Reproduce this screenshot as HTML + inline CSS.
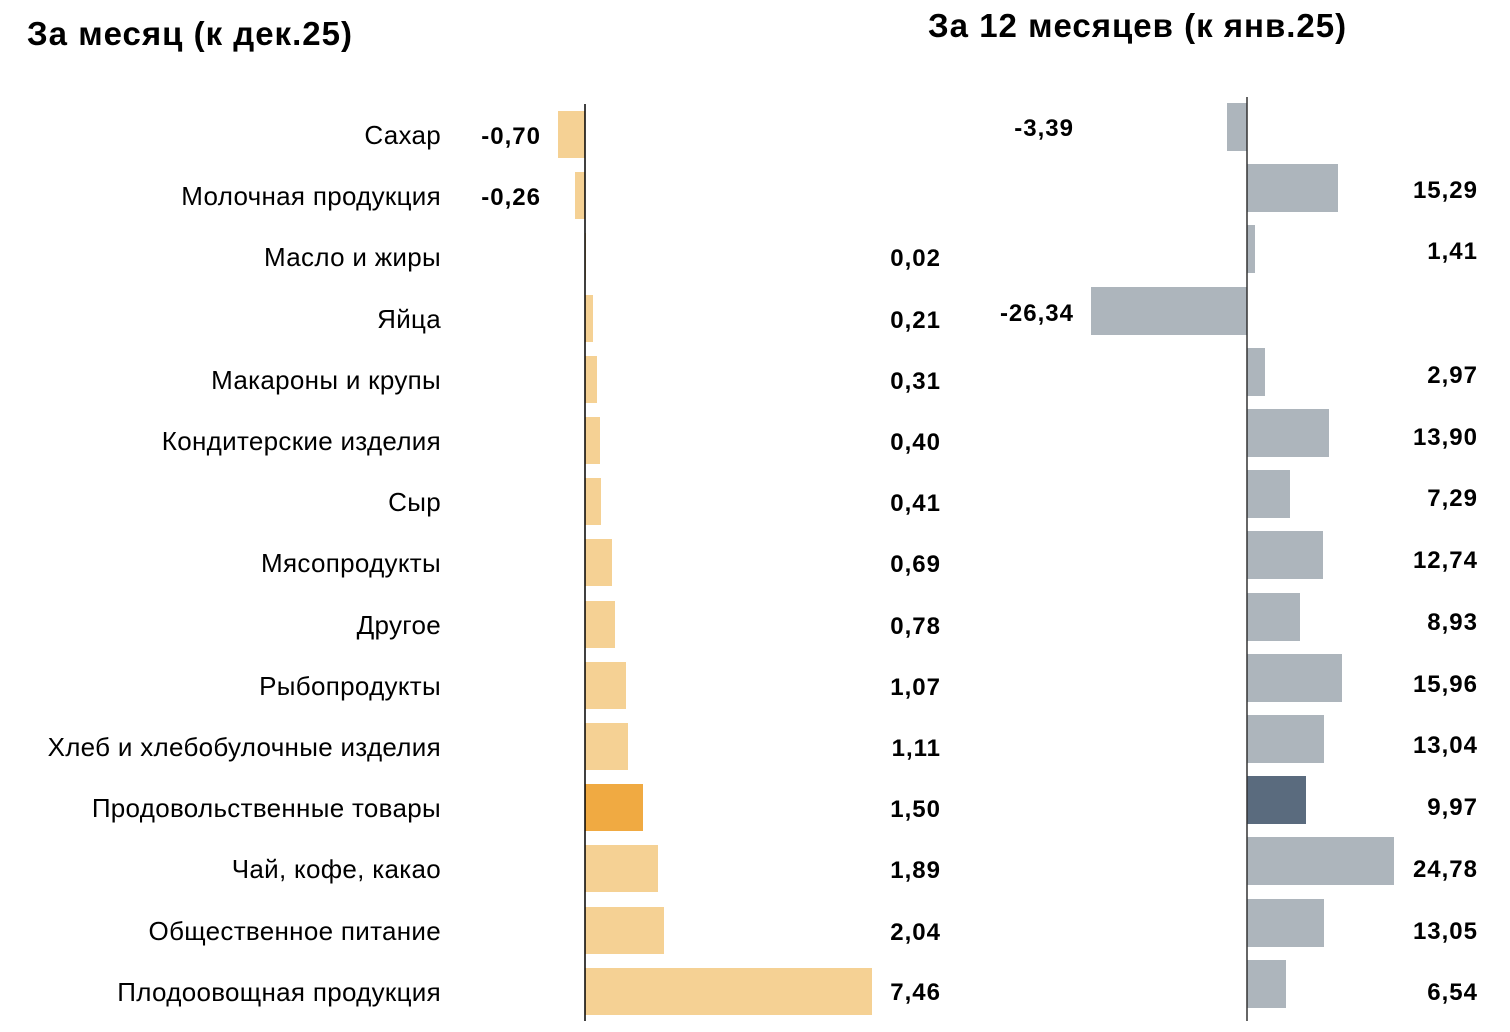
<!DOCTYPE html>
<html><head><meta charset="utf-8"><style>
html,body{margin:0;padding:0;background:#fff;}
svg{display:block;font-family:"Liberation Sans",Arial,sans-serif;}
.c{font-size:26px;letter-spacing:0.3px;fill:#000;text-anchor:end;}
.v{font-size:24px;letter-spacing:1px;font-weight:bold;fill:#000;text-anchor:end;}
.t{font-size:33px;letter-spacing:1px;font-weight:bold;fill:#000;}
</style></head><body>
<svg width="1510" height="1032" viewBox="0 0 1510 1032">
<text class="t" x="27" y="45">За месяц (к дек.25)</text>
<text class="t" x="928" y="37">За 12 месяцев (к янв.25)</text>
<g fill="#F5D194">
<rect x="558" y="111" width="27" height="47"/>
<rect x="575" y="172" width="10" height="47"/>
<rect x="585" y="233" width="1" height="47"/>
<rect x="585" y="295" width="8" height="47"/>
<rect x="585" y="356" width="12" height="47"/>
<rect x="585" y="417" width="15" height="47"/>
<rect x="585" y="478" width="16" height="47"/>
<rect x="585" y="539" width="27" height="47"/>
<rect x="585" y="601" width="30" height="47"/>
<rect x="585" y="662" width="41" height="47"/>
<rect x="585" y="723" width="43" height="47"/>
<rect x="585" y="784" width="58" height="47" fill="#F0AA42"/>
<rect x="585" y="845" width="73" height="47"/>
<rect x="585" y="907" width="79" height="47"/>
<rect x="585" y="968" width="287" height="47"/>
</g>
<line x1="585" y1="104" x2="585" y2="1021" stroke="#000" stroke-width="1.5"/>
<g fill="#ADB5BC">
<rect x="1227" y="103" width="20" height="48"/>
<rect x="1247" y="164" width="91" height="48"/>
<rect x="1247" y="225" width="8" height="48"/>
<rect x="1091" y="287" width="156" height="48"/>
<rect x="1247" y="348" width="18" height="48"/>
<rect x="1247" y="409" width="82" height="48"/>
<rect x="1247" y="470" width="43" height="48"/>
<rect x="1247" y="531" width="76" height="48"/>
<rect x="1247" y="593" width="53" height="48"/>
<rect x="1247" y="654" width="95" height="48"/>
<rect x="1247" y="715" width="77" height="48"/>
<rect x="1247" y="776" width="59" height="48" fill="#5A6B7E"/>
<rect x="1247" y="837" width="147" height="48"/>
<rect x="1247" y="899" width="77" height="48"/>
<rect x="1247" y="960" width="39" height="48"/>
</g>
<line x1="1247" y1="97" x2="1247" y2="1021" stroke="#333" stroke-width="1.5"/>
<g class="c">
<text x="441" y="144">Сахар</text>
<text x="441" y="205">Молочная продукция</text>
<text x="441" y="266">Масло и жиры</text>
<text x="441" y="328">Яйца</text>
<text x="441" y="389">Макароны и крупы</text>
<text x="441" y="450">Кондитерские изделия</text>
<text x="441" y="511">Сыр</text>
<text x="441" y="572">Мясопродукты</text>
<text x="441" y="634">Другое</text>
<text x="441" y="695">Рыбопродукты</text>
<text x="441" y="756">Хлеб и хлебобулочные изделия</text>
<text x="441" y="817">Продовольственные товары</text>
<text x="441" y="878">Чай, кофе, какао</text>
<text x="441" y="940">Общественное питание</text>
<text x="441" y="1001">Плодоовощная продукция</text>
</g>
<g class="v">
<text x="541" y="144">-0,70</text>
<text x="541" y="205">-0,26</text>
<text x="941" y="266">0,02</text>
<text x="941" y="328">0,21</text>
<text x="941" y="389">0,31</text>
<text x="941" y="450">0,40</text>
<text x="941" y="511">0,41</text>
<text x="941" y="572">0,69</text>
<text x="941" y="634">0,78</text>
<text x="941" y="695">1,07</text>
<text x="941" y="756">1,11</text>
<text x="941" y="817">1,50</text>
<text x="941" y="878">1,89</text>
<text x="941" y="940">2,04</text>
<text x="941" y="1000">7,46</text>
<text x="1074" y="136">-3,39</text>
<text x="1478" y="198">15,29</text>
<text x="1478" y="259">1,41</text>
<text x="1074" y="321">-26,34</text>
<text x="1478" y="383">2,97</text>
<text x="1478" y="445">13,90</text>
<text x="1478" y="506">7,29</text>
<text x="1478" y="568">12,74</text>
<text x="1478" y="630">8,93</text>
<text x="1478" y="692">15,96</text>
<text x="1478" y="753">13,04</text>
<text x="1478" y="815">9,97</text>
<text x="1478" y="877">24,78</text>
<text x="1478" y="939">13,05</text>
<text x="1478" y="1000">6,54</text>
</g>
</svg>
</body></html>
